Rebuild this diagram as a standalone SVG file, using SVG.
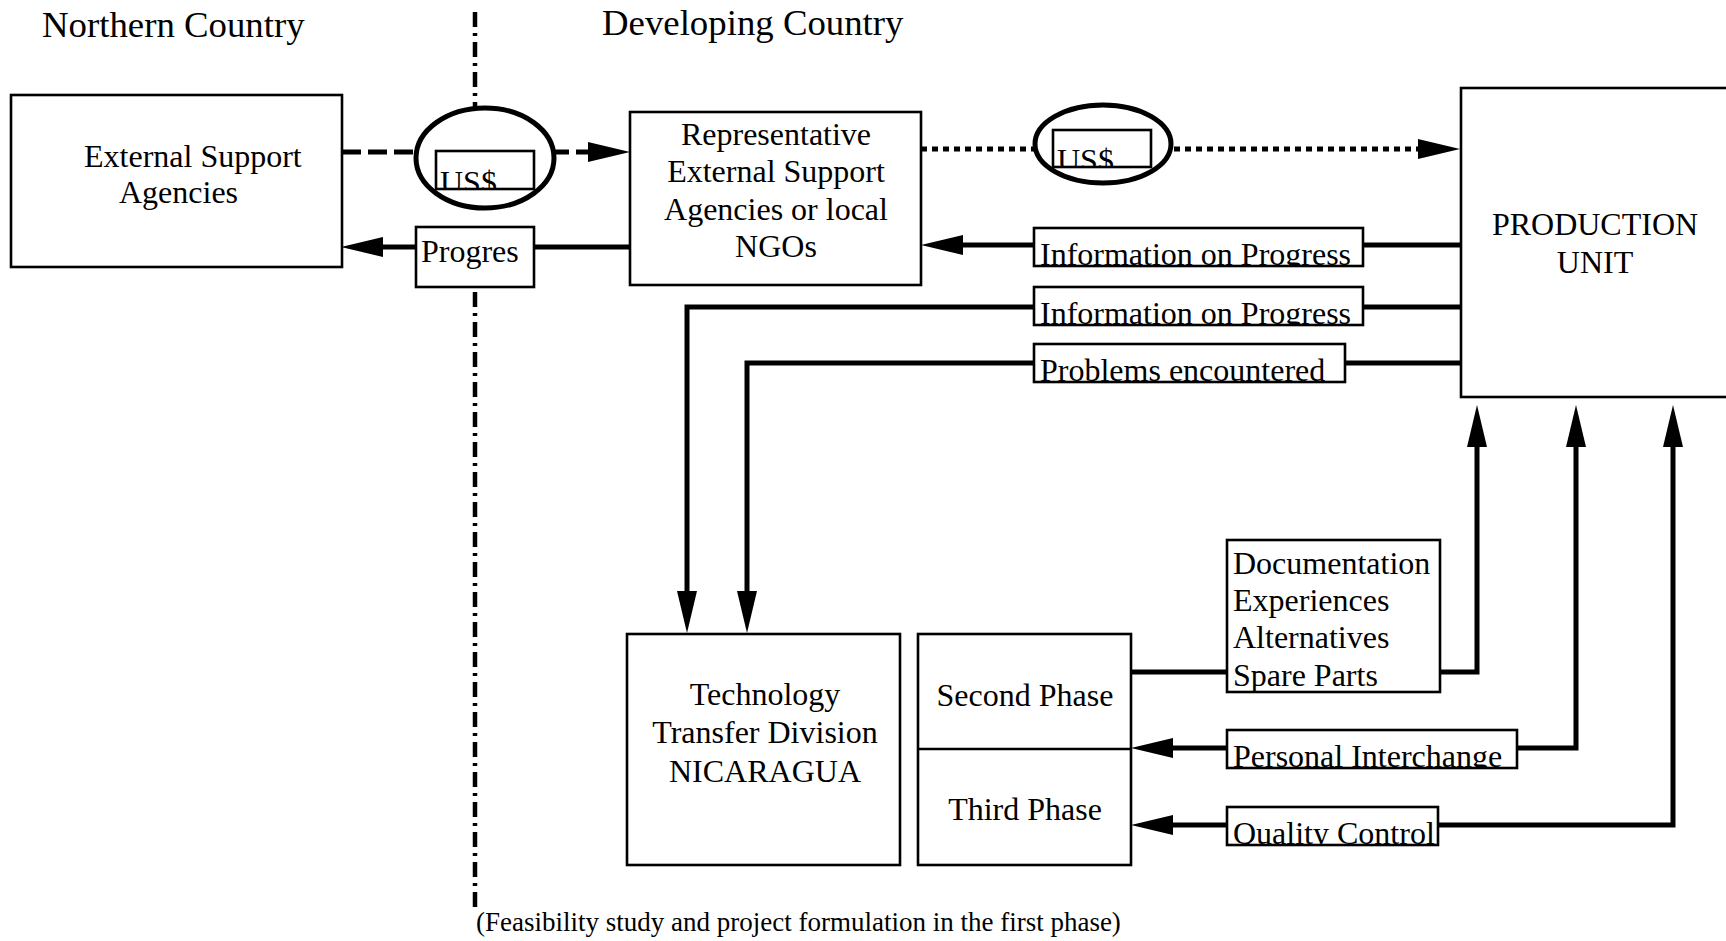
<svg xmlns="http://www.w3.org/2000/svg" width="1726" height="941" viewBox="0 0 1726 941">
<style>
.box{fill:#fff;stroke:#000;stroke-width:2.6}
.ell{fill:#fff;stroke:#000;stroke-width:5}
.t{font-family:"Liberation Serif","Times New Roman",serif;font-size:32px;fill:#000}
.h{font-family:"Liberation Serif","Times New Roman",serif;font-size:36.8px;fill:#000}
.fn{font-family:"Liberation Serif","Times New Roman",serif;font-size:27px;fill:#000}
.c{fill:none;stroke:#000;stroke-width:5;stroke-linejoin:miter}
.dash{stroke-dasharray:19 7}
.dot{stroke-dasharray:6 5}
.dd{fill:none;stroke:#000;stroke-width:4.5;stroke-dasharray:15 6 3 6}
.mid{text-anchor:middle}
</style>
<defs>
<marker id="ah" markerUnits="userSpaceOnUse" viewBox="0 0 42 20" refX="0" refY="10" markerWidth="42" markerHeight="20" orient="auto-start-reverse">
<path d="M0,0 L42,10 L0,20 Z" fill="#000"/>
</marker>
<clipPath id="cu1"><rect x="436" y="151" width="98" height="38"/></clipPath>
<clipPath id="cu2"><rect x="1053" y="130" width="98" height="37"/></clipPath>
<clipPath id="ci1"><rect x="1034" y="228" width="329" height="38"/></clipPath>
<clipPath id="ci2"><rect x="1034" y="287" width="329" height="38"/></clipPath>
<clipPath id="cpr"><rect x="1034" y="344" width="311" height="38"/></clipPath>
<clipPath id="cdoc"><rect x="1227" y="540" width="213" height="152"/></clipPath>
<clipPath id="cpi"><rect x="1227" y="730" width="290" height="38"/></clipPath>
<clipPath id="cqc"><rect x="1227" y="807" width="211" height="38"/></clipPath>
</defs>

<g id="headings">
<text class="h" x="42" y="37">Northern Country</text>
<text class="h" x="602" y="35">Developing Country</text>
</g>

<g id="border-line">
<path class="dd" d="M475,12 V125"/>
<path class="dd" d="M475,292 V912"/>
</g>

<g id="connectors">
<path class="c dash" d="M342,152 H588" marker-end="url(#ah)"/>
<path class="c" d="M630,247 H383" marker-end="url(#ah)"/>
<path class="c dot" d="M921,149 H1418" marker-end="url(#ah)"/>
<path class="c" d="M1460,245 H963" marker-end="url(#ah)"/>
<path class="c" d="M1460,307 H687 V591" marker-end="url(#ah)"/>
<path class="c" d="M1460,363 H747 V591" marker-end="url(#ah)"/>
<path class="c" d="M1131,672 H1477 V447" marker-end="url(#ah)"/>
<path class="c" d="M1173,748 H1576 V447" marker-start="url(#ah)" marker-end="url(#ah)"/>
<path class="c" d="M1173,825 H1673 V447" marker-start="url(#ah)" marker-end="url(#ah)"/>
</g>

<g id="external-support-agencies">
<rect class="box" x="11" y="95" width="331" height="172"/>
<text class="t" x="84" y="167">External Support</text>
<text class="t" x="119" y="203">Agencies</text>
</g>

<g id="usd-1">
<ellipse class="ell" cx="485" cy="158" rx="69" ry="50"/>
<rect class="box" x="436" y="151" width="98" height="38"/>
<text class="t" x="440" y="193" clip-path="url(#cu1)">US$</text>
</g>

<g id="progres">
<rect class="box" x="416" y="227" width="118" height="60"/>
<text class="t" x="421" y="262">Progres</text>
</g>

<g id="representative">
<rect class="box" x="630" y="112" width="291" height="173"/>
<text class="t mid" x="776" y="145">Representative</text>
<text class="t mid" x="776" y="182">External Support</text>
<text class="t mid" x="776" y="220">Agencies or local</text>
<text class="t mid" x="776" y="257">NGOs</text>
</g>

<g id="usd-2">
<ellipse class="ell" cx="1103" cy="144" rx="68" ry="39"/>
<rect class="box" x="1053" y="130" width="98" height="37"/>
<text class="t" x="1057" y="171" clip-path="url(#cu2)">US$</text>
</g>

<g id="production-unit">
<rect class="box" x="1461" y="88" width="320" height="309"/>
<text class="t mid" x="1595" y="235">PRODUCTION</text>
<text class="t mid" x="1595" y="273">UNIT</text>
</g>

<g id="info-progress-1">
<rect class="box" x="1034" y="228" width="329" height="38"/>
<text class="t" x="1040" y="265" clip-path="url(#ci1)">Information on Progress</text>
</g>

<g id="info-progress-2">
<rect class="box" x="1034" y="287" width="329" height="38"/>
<text class="t" x="1040" y="324" clip-path="url(#ci2)">Information on Progress</text>
</g>

<g id="problems">
<rect class="box" x="1034" y="344" width="311" height="38"/>
<text class="t" x="1040" y="381" clip-path="url(#cpr)">Problems encountered</text>
</g>

<g id="technology-transfer">
<rect class="box" x="627" y="634" width="273" height="231"/>
<text class="t mid" x="765" y="705">Technology</text>
<text class="t mid" x="765" y="743">Transfer Division</text>
<text class="t mid" x="765" y="782">NICARAGUA</text>
</g>

<g id="phases">
<rect class="box" x="918" y="634" width="213" height="231"/>
<line x1="918" y1="749" x2="1131" y2="749" stroke="#000" stroke-width="2.6"/>
<text class="t mid" x="1025" y="706">Second Phase</text>
<text class="t mid" x="1025" y="820">Third Phase</text>
</g>

<g id="documentation">
<rect class="box" x="1227" y="540" width="213" height="152"/>
<g clip-path="url(#cdoc)">
<text class="t" x="1233" y="574">Documentation</text>
<text class="t" x="1233" y="611">Experiences</text>
<text class="t" x="1233" y="648">Alternatives</text>
<text class="t" x="1233" y="686">Spare Parts</text>
</g>
</g>

<g id="personal-interchange">
<rect class="box" x="1227" y="730" width="290" height="38"/>
<text class="t" x="1233" y="767" clip-path="url(#cpi)">Personal Interchange</text>
</g>

<g id="quality-control">
<rect class="box" x="1227" y="807" width="211" height="38"/>
<text class="t" x="1233" y="844" clip-path="url(#cqc)">Quality Control</text>
</g>

<g id="footnote">
<text class="fn" x="476" y="931">(Feasibility study and project formulation in the first phase)</text>
</g>
</svg>
